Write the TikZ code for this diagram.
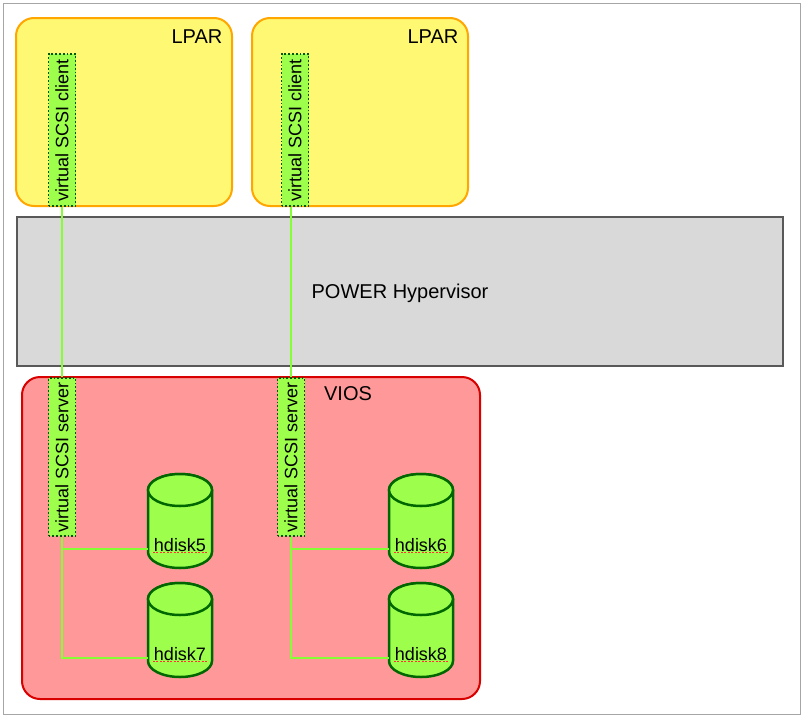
\documentclass[tikz,border=0pt]{standalone}
\usepackage{fontspec}
\setmainfont{Liberation Sans}
\begin{document}
\begin{tikzpicture}[x=1pt,y=-1pt,
  lpar/.style={draw=orange!70!yellow,line width=2pt,fill=yellow!55,rounded corners=18pt},
  vsc/.style={draw=green!35!black,dotted,line width=1.8pt,fill=green!55!yellow!70,minimum width=27pt,inner sep=0pt},
  link/.style={draw=green!60!yellow!80,line width=2pt},
  lbl/.style={font=\fontsize{20}{22}\selectfont},
  vlbl/.style={font=\fontsize{18}{20}\selectfont,rotate=90,inner sep=0pt},
  disklbl/.style={font=\fontsize{18}{20}\selectfont},
  diskbody/.style={draw=green!40!black,line width=2.5pt,fill=green!55!yellow!70}]
\useasboundingbox (0,0) rectangle (804,718);
\draw[gray!70,line width=1pt] (3,3) rectangle (800,714);
% LPARs
\draw[lpar] (16,18) rectangle (232,206);
\draw[lpar] (252,18) rectangle (468,206);
\node[lbl] (l1) at (197,37) {LPAR};
\node[lbl] (l2) at (433,37) {LPAR};
% hypervisor
\draw[draw=gray!70!black,line width=2pt,fill=gray!30] (17,217) rectangle (783,366);
\node[lbl] (hv) at (400,293) {POWER Hypervisor};
% VIOS
\draw[draw=red!85!black,line width=2pt,fill=red!40!white,rounded corners=18pt] (22,377) rectangle (480,699);
\node[lbl] (vios) at (348,394) {VIOS};
% client/server boxes
\node[vsc,minimum height=152pt] (c1) at (62,130) {};
\node[vsc,minimum height=152pt] (c2) at (295,130) {};
\node[vsc,minimum height=158pt] (s1) at (62,457) {};
\node[vsc,minimum height=158pt] (s2) at (291,457) {};
\node[vlbl] (t1) at (c1) {virtual SCSI client};
\node[vlbl] (t2) at (c2) {virtual SCSI client};
\node[vlbl] (t3) at (s1) {virtual SCSI server};
\node[vlbl] (t4) at (s2) {virtual SCSI server};
% links
\draw[link] (c1.south) -- (s1.north);
\draw[link] (c2.south -| s2.north) -- (s2.north);
% disks
\foreach \n/\x/\y in {5/180/474,7/180/583,6/421/474,8/421/583}{
  \draw[diskbody] (\x-32,\y+16) -- (\x-32,\y+78) arc[start angle=180,end angle=360,x radius=32pt,y radius=16pt] -- (\x+32,\y+16) arc[start angle=0,end angle=180,x radius=32pt,y radius=16pt] -- cycle;
  \draw[diskbody] (\x,\y+16) ellipse[x radius=32pt,y radius=16pt];
  \node[disklbl,inner sep=1pt] (d\n) at (\x,\y+71) {hdisk\n};
  \draw[red!80,line width=1.2pt,dash pattern=on 2pt off 1.5pt] (d\n.south west) -- (d\n.south east);
  \coordinate (dw\n) at (\x-32,\y+75);
}
\coordinate (j1) at (s1.south |- dw7);
\coordinate (j2) at (s2.south |- dw8);
\draw[link] (s1.south) -- (j1) -- (dw7);
\draw[link] (s1.south |- dw5) -- (dw5);
\draw[link] (s2.south) -- (j2) -- (dw8);
\draw[link] (s2.south |- dw6) -- (dw6);
\end{tikzpicture}
\end{document}
